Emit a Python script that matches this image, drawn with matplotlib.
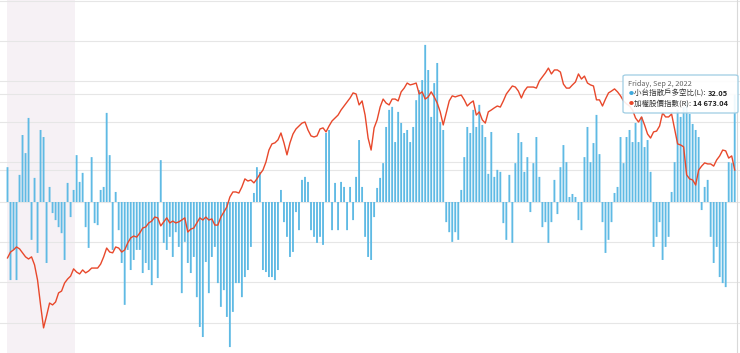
import matplotlib
matplotlib.use("Agg")
import matplotlib.pyplot as plt
from matplotlib.patches import FancyBboxPatch
import numpy as np

# ---- data (one sample per ~3 px) ----
ratio_values = [
    10.4, -23.3, -14.3, -23.3, 8.1, 20.0, 14.6, 25.1, -11.3, 7.2,
    -15.2, 21.5, 19.4, -18.2, 4.5, -3.3, -5.4, -7.5, -9.3, -17.3,
    5.7, -4.5, 3.6, 14.0, 6.0, 8.7, -7.5, -13.7, 13.4, -6.3,
    -6.9, 3.6, 4.5, 26.6, 14.0, -14.3, 3.0, -8.4, -18.2, -30.7,
    -14.3, -20.3, -17.3, -14.3, -14.3, -21.2, -18.2, -20.3, -24.8, -17.3,
    -22.7, 12.5, -12.2, -14.3, -10.4, -16.4, -9.0, -13.4, -27.2, -11.9,
    -18.2, -21.2, -16.4, -28.4, -37.3, -40.3, -17.9, -27.2, -16.4, -13.4,
    -24.2, -31.3, -26.3, -34.3, -43.3, -32.8, -24.2, -24.2, -28.4, -22.4,
    -20.3, -13.4, 2.7, 10.4, 9.0, -20.3, -20.9, -22.4, -22.4, -23.3,
    -20.3, 3.6, -6.0, -10.4, -16.4, -14.9, -3.0, -8.4, 6.6, 7.5,
    6.0, -8.4, -10.4, -12.2, -10.4, -12.8, 20.6, 21.5, -8.4, 5.7,
    -8.4, 6.0, 4.5, -8.4, 4.5, -5.4, 7.5, 18.5, 4.5, -10.4,
    -16.4, -17.3, -4.5, 4.2, 7.2, 11.6, 22.4, 27.5, 28.4, 17.9,
    26.9, 23.6, 20.6, 21.5, 17.9, 22.4, 30.4, 33.4, 36.4, 46.9,
    39.4, 25.4, 35.5, 41.5, 23.9, 21.5, -6.0, -9.0, -11.9, -9.0,
    -11.3, 3.6, 13.4, 22.4, 20.6, 27.5, 22.4, 29.0, 23.0, 19.4,
    8.4, 20.9, 7.5, 9.6, 9.0, -6.3, -11.3, 8.1, -12.2, 11.6,
    20.6, 17.9, 9.0, 13.4, -3.0, 11.6, 19.4, 7.5, -7.5, -6.0,
    -12.2, -6.0, 6.6, -3.6, 10.4, 17.0, 11.9, 1.5, 2.4, 1.5,
    -5.4, -8.4, 13.4, 22.4, 11.9, 17.6, 26.0, 14.3, -6.0, -15.2,
    -11.3, -6.0, 2.7, 4.5, 19.4, 11.6, 19.4, 21.5, 17.9, 23.6,
    17.9, 25.4, 16.4, 18.5, 9.0, -13.4, -10.4, -6.0, -17.3, -13.4,
    -10.4, 3.0, 11.9, 27.5, 25.4, 28.4, 29.9, 26.3, 23.3, 21.5,
    19.4, -2.4, 4.5, 6.6, -10.4, -18.2, -13.4, -22.4, -24.2, -25.4,
    11.9, 11.6, 32.05,
]

taiex_values = [
    11380, 11600, 11680, 11790, 11720, 11570, 11420, 11340, 11420, 11120,
    10550, 9620, 8760, 9210, 9690, 9620, 9730, 10070, 10140, 10440,
    10590, 10700, 10970, 10850, 10780, 10930, 10820, 10890, 11000, 11000,
    11000, 11150, 11420, 11750, 11600, 11570, 11790, 11750, 11600, 11680,
    11940, 12130, 12200, 12160, 12310, 12500, 12540, 12690, 12760, 12910,
    12880, 12580, 12730, 12880, 12690, 12760, 12690, 12730, 12800, 12880,
    12350, 12460, 12500, 12690, 12880, 12800, 12910, 12800, 12840, 12610,
    12610, 12910, 13100, 13290, 13660, 13850, 13850, 13810, 14040, 14340,
    14260, 14300, 14190, 14340, 14520, 14670, 14970, 15420, 15650, 15690,
    15800, 16060, 15690, 15240, 15690, 16020, 16210, 16320, 16430, 16470,
    16170, 15950, 15910, 15950, 16210, 16250, 16100, 16320, 16510, 16620,
    16730, 16920, 17070, 17220, 17370, 17560, 17520, 17110, 17260, 16730,
    15870, 15420, 16250, 16550, 17030, 17330, 17180, 17110, 17330, 17330,
    17260, 17600, 17740, 17930, 17860, 17890, 17930, 17520, 17600, 17330,
    17410, 17600, 17410, 17180, 16850, 16360, 16810, 17260, 17450, 17410,
    17450, 17480, 17300, 17070, 17180, 17260, 16730, 16850, 16550, 16430,
    16850, 16920, 17000, 17070, 17030, 17260, 17520, 17670, 17820, 17780,
    17630, 17370, 17630, 17780, 17780, 17780, 17740, 18010, 18160, 18310,
    18490, 18270, 18420, 18420, 18340, 17890, 17740, 17740, 17860, 17970,
    18270, 18080, 18190, 17930, 17860, 17820, 17300, 17300, 17070, 17330,
    17560, 17630, 17710, 17600, 17450, 17260, 17150, 17070, 16920, 16620,
    16470, 16660, 16360, 16020, 15870, 16100, 16130, 16320, 16810, 16660,
    16660, 16770, 16210, 15650, 15610, 15540, 14490, 14340, 14300, 14110,
    14670, 14820, 14940, 14900, 14900, 14820, 15050, 15200, 15420, 15390,
    15120, 15200, 14673.04,
]

series_names = ["小台指散戶多空比(L)", "加權股價指數(R)"]
tooltip_date = "Friday, Sep 2, 2022"
tooltip_values = ["32.05", "14 673.04"]

band_start, band_end = -0.2, 22.45   # shaded period (sample index)

# ---- figure ----
W, H = 740, 353
fig = plt.figure(figsize=(W / 100, H / 100), dpi=100)
ax = fig.add_axes([0, 0, 1, 1])
ax2 = ax.twinx()

idx = np.arange(len(ratio_values))
ax.set_xlim(-2.496, 243.76)
ax.set_ylim(-45.07, 60.30)
ax2.set_ylim(7819, 21040)

for a in (ax, ax2):
    for s in a.spines.values():
        s.set_visible(False)
    a.set_xticks([])
    a.set_yticks([])
ax.patch.set_facecolor("white")
ax2.patch.set_visible(False)

grid_c = "#e6e6e6"
ax.axvspan(band_start, band_end, color="#f6f1f5", zorder=0, lw=0)
for v in np.arange(-36, 61, 12):
    ax.axhline(v, color=grid_c, lw=0.8, zorder=0.5)
# right-axis grid lines (converted to left-axis position so they sit under bars)
fig.canvas.draw()
for rv in (14673, 17508):
    yd = ax2.transData.transform((0, rv))[1]
    yl = ax.transData.inverted().transform((0, yd))[1]
    ax.axhline(yl, color=grid_c, lw=0.8, zorder=0.5)

bars = ax.bar(idx, ratio_values, width=0.62, color="#5fbae4", lw=0, zorder=2)
for b in bars:
    b.set_snap(False)
ax.axvline(242.9, color="#d9d9d9", lw=0.8, zorder=1)
ax2.plot(idx, taiex_values, color="#e8482b", lw=1.0, zorder=3)

# ---- tooltip ----
def fx(px):
    return px / W

def fy(py):
    return 1 - py / H

box = FancyBboxPatch((fx(623), fy(113)), fx(738) - fx(623), fy(75) - fy(113),
                     boxstyle="round,pad=0,rounding_size=0.004",
                     transform=fig.transFigure, facecolor=(1, 1, 1, 0.9),
                     edgecolor="#9fcde3", lw=0.9, zorder=10)
fig.add_artist(box)
fam = ["Noto Sans CJK TC", "DejaVu Sans"]
fig.text(fx(627.5), fy(84.5), tooltip_date, fontsize=5.3, color="#666666",
         family=fam, va="center", ha="left", zorder=11)
bullet_colors = ["#3fa9dd", "#e8482b"]
rows_y = [93.8, 103.2]
fig.canvas.draw()
rend = fig.canvas.get_renderer()
for name, val, col, ry in zip(series_names, tooltip_values, bullet_colors, rows_y):
    fig.text(fx(628.5), fy(ry), "●", fontsize=3.6, color=col, family=fam,
             va="center", ha="left", zorder=11)
    t = fig.text(fx(634.5), fy(ry), name + ": ", fontsize=5.4, color="#333333",
                 family=fam, va="center", ha="left", zorder=11)
    bb = t.get_window_extent(renderer=rend)
    fig.text(bb.x1 / W, fy(ry), val, fontsize=5.4, color="#222222",
             family=fam, weight="bold", va="center", ha="left", zorder=11)

fig.savefig("out.png", dpi=100)
